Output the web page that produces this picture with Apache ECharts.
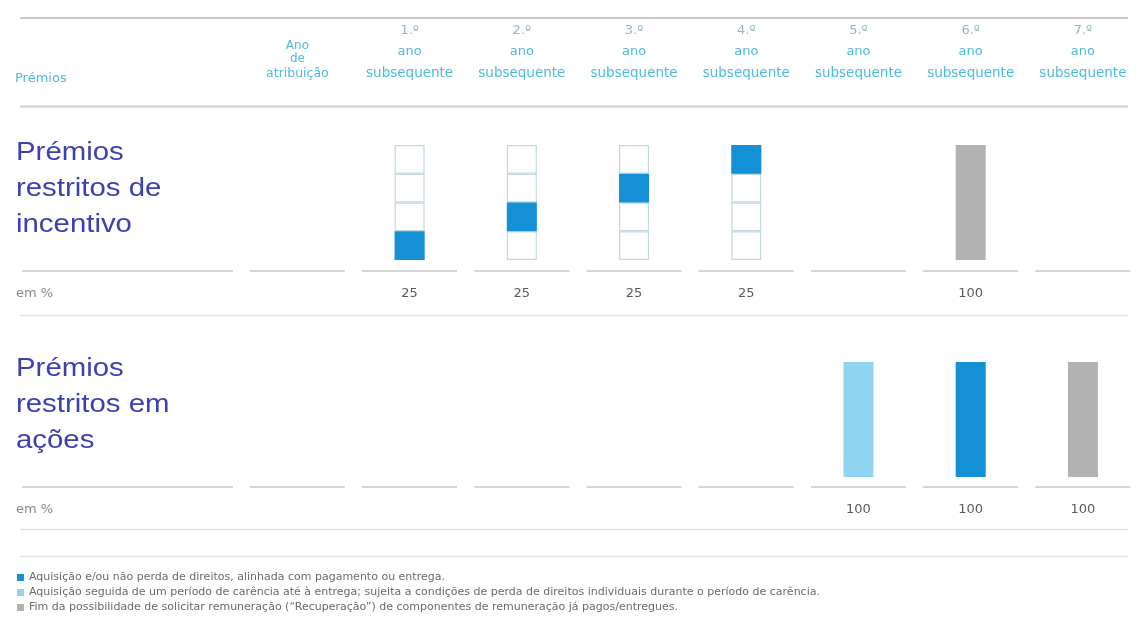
<!DOCTYPE html>
<html>
<head>
<meta charset="utf-8">
<script src="https://cdn.jsdelivr.net/npm/echarts@6/dist/echarts.min.js"></script>
<style>
  html, body { margin: 0; padding: 0; background: #ffffff; }
  #chart { width: 1139px; height: 642px; }
</style>
</head>
<body>
<div id="chart"></div>
<script>
// Column headings: year of grant followed by the seven subsequent years
const columnKeys = ['0', '1', '2', '3', '4', '5', '6', '7'];
const ordinalLabels = ['', '1.º', '2.º', '3.º', '4.º', '5.º', '6.º', '7.º'];

// Restricted incentive awards (in %)
const incentiveVesting = [0, 25, 25, 25, 25, 0, 0, 0];
const incentiveClawbackEnd = [0, 0, 0, 0, 0, 0, 100, 0];

// Restricted share awards (in %)
const shareRetention = [0, 0, 0, 0, 0, 100, 0, 0];
const shareVesting = [0, 0, 0, 0, 0, 0, 100, 0];
const shareClawbackEnd = [0, 0, 0, 0, 0, 0, 0, 100];

const legendNames = [
  'Aquisição e/ou não perda de direitos, alinhada com pagamento ou entrega.',
  'Aquisição seguida de um período de carência até à entrega; sujeita a condições de perda de direitos individuais durante o período de carência.',
  'Fim da possibilidade de solicitar remuneração (“Recuperação”) de componentes de remuneração já pagos/entregues.'
];

const C_BLUE = '#1490d6';
const C_LIGHT = '#90d4f1';
const C_GRAY = '#b2b2b2';
const C_CELL = '#c2d9df';
const C_HEAD = '#4bbbe0';
const C_ORD = '#8fb9c8';
const C_TITLE = '#3b42ad';
const C_RULE = '#c9c9c9';
const SANS = '"Liberation Sans", Arial, sans-serif';
const WIDE = '"DejaVu Sans", Verdana, sans-serif';

const chart = echarts.init(document.getElementById('chart'), null, { renderer: 'canvas' });

const nz = (arr) => arr.map(v => (v ? v : '-'));

// Vesting tranches stack upward: each year's block sits on the ones already vested
const tranche = 25;
const incentiveOffset = incentiveVesting.map((v, i) =>
  v ? incentiveVesting.slice(0, i).reduce((a, b) => a + b, 0) : '-');
// Outline cells behind each tranche column
const cellCount = 100 / tranche;
const cellSeries = [];
for (let k = 0; k < cellCount; k++) {
  cellSeries.push({
    type: 'bar', xAxisIndex: 0, yAxisIndex: 0, stack: 'cells', silent: true,
    barWidth: 30, barGap: '-100%',
    data: incentiveVesting.map(v => (v ? tranche : '-')),
    itemStyle: { color: '#ffffff', borderColor: C_CELL, borderWidth: 1.2 }
  });
}

// Value row ("em %") under each block
const rowLabel = (arrays) => columnKeys.map((_, i) => {
  const m = Math.max(...arrays.map(a => a[i]));
  return m ? String(m) : '';
});
const incentiveRow = rowLabel([incentiveVesting, incentiveClawbackEnd]);
const shareRow = rowLabel([shareRetention, shareVesting, shareClawbackEnd]);

const GRID_LEFT = 241.3, GRID_WIDTH = 902.4;

const headerFormatter = (value, idx) => {
  if (idx === 0) return '{g|Ano}\n{g|de}\n{h|atribuição}';
  return '{n|' + ordinalLabels[idx] + '}\n{a|ano}\n{s|subsequente}';
};

const valueLabel = { color: '#5a5a5a', fontSize: 13, fontFamily: WIDE };

const option = {
  animation: false,
  backgroundColor: '#ffffff',
  textStyle: { fontFamily: SANS },
  grid: [
    { left: GRID_LEFT, width: GRID_WIDTH, top: 145, height: 115 },
    { left: GRID_LEFT, width: GRID_WIDTH, top: 362, height: 115 }
  ],
  xAxis: [
    {
      type: 'category', gridIndex: 0, data: columnKeys, position: 'bottom',
      axisLine: { show: false }, axisTick: { show: false },
      axisLabel: Object.assign({ margin: 27, interval: 0, formatter: (v, i) => incentiveRow[i] }, valueLabel)
    },
    {
      type: 'category', gridIndex: 0, data: columnKeys, position: 'top',
      axisLine: { show: false }, axisTick: { show: false },
      axisLabel: {
        margin: 63, interval: 0, formatter: headerFormatter, fontFamily: WIDE,
        rich: {
          g: { color: C_HEAD, fontSize: 12, lineHeight: 12.5, fontFamily: WIDE },
          h: { color: C_HEAD, fontSize: 12.5, lineHeight: 17, fontFamily: WIDE },
          n: { color: C_ORD, fontSize: 13, lineHeight: 18, fontFamily: WIDE },
          a: { color: C_HEAD, fontSize: 13, lineHeight: 24, fontFamily: WIDE },
          s: { color: C_HEAD, fontSize: 13.5, lineHeight: 18, fontFamily: WIDE }
        }
      }
    },
    {
      type: 'category', gridIndex: 1, data: columnKeys, position: 'bottom',
      axisLine: { show: false }, axisTick: { show: false },
      axisLabel: Object.assign({ margin: 26, interval: 0, formatter: (v, i) => shareRow[i] }, valueLabel)
    }
  ],
  yAxis: [
    { type: 'value', gridIndex: 0, min: 0, max: 100, show: false },
    { type: 'value', gridIndex: 1, min: 0, max: 100, show: false }
  ],
  legend: {
    orient: 'vertical', left: 17, top: 572, itemGap: 4, padding: 0,
    itemWidth: 7, itemHeight: 7, icon: 'rect', selectedMode: false,
    textStyle: { color: '#6a6a6a', fontSize: 11, fontFamily: WIDE },
    data: legendNames
  },
  series: [
    ...cellSeries,
    {
      type: 'bar', xAxisIndex: 0, yAxisIndex: 0, stack: 'fill', silent: true,
      barWidth: 30, barGap: '-100%', data: incentiveOffset,
      itemStyle: { color: 'rgba(0,0,0,0)' }
    },
    {
      name: legendNames[0], type: 'bar', xAxisIndex: 0, yAxisIndex: 0, stack: 'fill',
      barWidth: 30, barGap: '-100%', data: nz(incentiveVesting),
      itemStyle: { color: C_BLUE }
    },
    {
      name: legendNames[2], type: 'bar', xAxisIndex: 0, yAxisIndex: 0, stack: 'fill',
      barWidth: 30, barGap: '-100%', data: nz(incentiveClawbackEnd),
      itemStyle: { color: C_GRAY }
    },
    {
      name: legendNames[1], type: 'bar', xAxisIndex: 2, yAxisIndex: 1, stack: 'shares',
      barWidth: 30, barGap: '-100%', data: nz(shareRetention),
      itemStyle: { color: C_LIGHT }
    },
    {
      name: legendNames[0], type: 'bar', xAxisIndex: 2, yAxisIndex: 1, stack: 'shares',
      barWidth: 30, barGap: '-100%', data: nz(shareVesting),
      itemStyle: { color: C_BLUE }
    },
    {
      name: legendNames[2], type: 'bar', xAxisIndex: 2, yAxisIndex: 1, stack: 'shares',
      barWidth: 30, barGap: '-100%', data: nz(shareClawbackEnd),
      itemStyle: { color: C_GRAY }
    }
  ]
};

chart.setOption(option);

// Table rules and row captions
function rule(x1, x2, y, color, w) {
  return { type: 'line', silent: true, shape: { x1, y1: y, x2, y2: y },
    style: { stroke: color || C_RULE, lineWidth: w || 1.3 } };
}
function caption(text, x, y, font, color, lh, sx) {
  return { type: 'text', silent: true, x, y, scaleX: sx || 1, originX: 0, originY: 0,
    style: { text, fill: color, font, lineHeight: lh,
      verticalAlign: 'middle', align: 'left' } };
}

const elements = [];
elements.push(rule(20, 1128, 18, '#c8c8c8', 1.8));
elements.push(rule(20, 1128, 106.5, '#d0d0d0', 1.8));
elements.push(rule(20, 1128, 315.5, '#dde2e5', 1.6));
elements.push(rule(20, 1128, 529.5, '#dde2e5', 1.6));
elements.push(rule(20, 1128, 556.5, '#dde2e5', 1.6));

// Short segments under each column, one row per section
[[0, 271], [2, 487]].forEach(([axisIdx, y]) => {
  elements.push(rule(22, 233, y));
  columnKeys.forEach((k) => {
    const cx = chart.convertToPixel({ xAxisIndex: axisIdx }, k);
    elements.push(rule(cx - 47.5, cx + 47.5, y));
  });
});

elements.push(caption('Prémios', 15, 79, '13px ' + WIDE, C_HEAD, 16));
elements.push(caption('Prémios\nrestritos de\nincentivo', 16, 189, '26px ' + SANS, C_TITLE, 36, 1.13));
elements.push(caption('em %', 16, 294, '13px ' + WIDE, '#888', 16));
elements.push(caption('Prémios\nrestritos em\nações', 16, 405, '26px ' + SANS, C_TITLE, 36, 1.13));
elements.push(caption('em %', 16, 510, '13px ' + WIDE, '#888', 16));

chart.setOption({ graphic: { elements } });
</script>
</body>
</html>
